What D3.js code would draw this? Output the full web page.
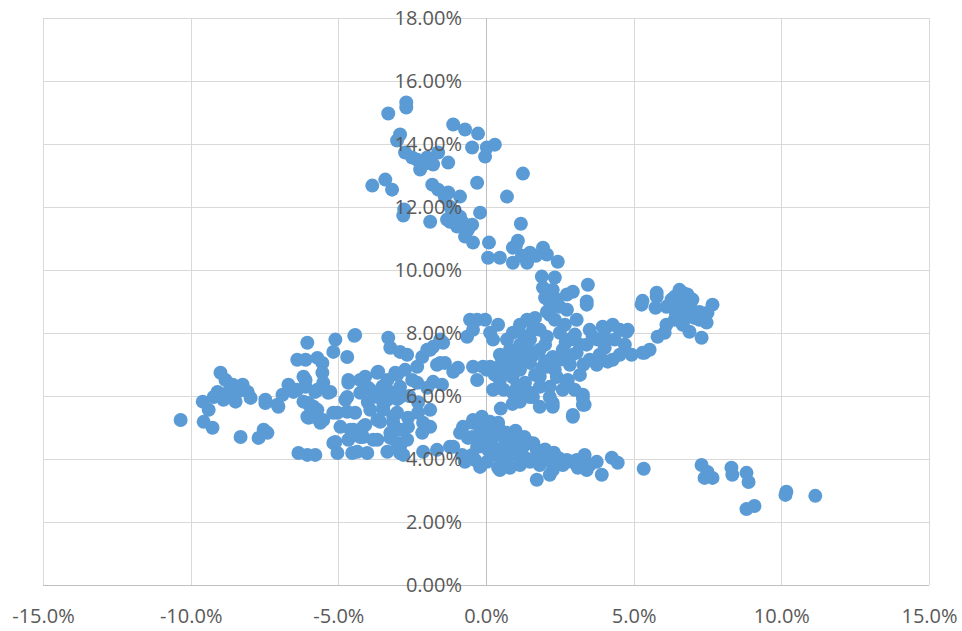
<!DOCTYPE html>
<html>
<head>
<meta charset="utf-8">
<script src="https://cdn.jsdelivr.net/npm/d3@7"></script>
<style>
  body { margin: 0; background: #fff; }
  svg { display: block; }
</style>
</head>
<body>
<div id="chart"></div>
<script>
// ticks
const xTicks = [-15, -10, -5, 0, 5, 10, 15];
const yTicks = [0, 2, 4, 6, 8, 10, 12, 14, 16, 18];

// points, [x %, y %], grouped by region of the scatter
const topPts = [
  [-2.70, 15.32], [-2.70, 15.16], [-3.31, 14.97], [-1.11, 14.62], [-0.71, 14.46], [-0.27, 14.33],
  [-2.91, 14.30], [-3.01, 14.11], [0.30, 13.98], [0.03, 13.89], [-0.47, 13.89], [-0.03, 13.60],
  [-2.74, 13.73], [-2.33, 13.50], [-1.99, 13.57], [-1.62, 13.73], [-1.28, 13.41], [-1.79, 13.35],
  [-2.23, 13.19], [-2.13, 13.35], [-2.50, 13.57], [1.25, 13.06], [-3.85, 12.68], [-3.41, 12.87],
  [-3.18, 12.55], [-1.82, 12.71], [-1.62, 12.55], [-0.30, 12.77], [-1.28, 12.46], [-0.88, 12.33],
  [0.71, 12.33], [-1.39, 12.30], [-2.80, 11.73], [-2.77, 11.92], [-1.89, 11.53], [-1.22, 12.01],
  [-1.05, 11.85], [-0.20, 11.82], [-1.22, 11.53], [-0.98, 11.66], [-0.78, 11.50], [-0.47, 11.44],
  [-0.88, 11.69], [-0.98, 11.38], [-0.61, 11.28], [-0.71, 11.06], [-0.44, 10.87], [-0.68, 11.22],
  [1.18, 11.47], [0.10, 10.87], [-1.32, 11.60], [-1.15, 11.76]
];

const bandPts = [
  [0.07, 10.39], [0.47, 10.39], [0.91, 10.23], [0.91, 10.71], [1.08, 10.93], [1.01, 10.77],
  [1.49, 10.55], [1.39, 10.23], [1.93, 10.71], [2.06, 10.49], [2.43, 10.26], [1.69, 10.45],
  [1.22, 10.45], [1.89, 9.79], [2.33, 9.76], [1.93, 9.44], [2.00, 9.12], [2.40, 9.06],
  [2.74, 9.22], [2.94, 9.31], [3.45, 9.53], [3.41, 9.00], [2.16, 8.96], [2.06, 8.67],
  [2.74, 8.74], [3.07, 8.42], [2.50, 8.83], [2.26, 9.37]
];

const rightPts = [
  [5.27, 8.90], [5.30, 9.02], [5.78, 9.28], [5.78, 9.15], [5.74, 8.80], [6.39, 9.15],
  [6.55, 9.37], [6.66, 9.28], [6.82, 9.22], [6.11, 8.83], [6.55, 8.74], [6.96, 8.74],
  [7.23, 8.67], [7.67, 8.90], [7.50, 8.64], [6.79, 8.48], [7.23, 8.42], [7.47, 8.33],
  [6.39, 8.42], [6.11, 8.26], [5.81, 7.88], [6.05, 8.01], [6.89, 8.04], [7.30, 7.85],
  [5.37, 7.37], [5.54, 7.47], [4.80, 8.10], [6.72, 8.90], [6.99, 9.06], [6.42, 8.67],
  [7.06, 8.48], [6.66, 8.26], [6.28, 9.06]
];

const midPts = [
  [-0.03, 8.42], [0.14, 8.01], [0.24, 7.79], [0.91, 8.01], [1.39, 8.42], [1.59, 8.10],
  [2.06, 7.88], [2.50, 8.01], [2.84, 7.79], [3.51, 8.10], [3.95, 8.20], [4.29, 8.26],
  [4.76, 8.04], [4.09, 7.79], [3.41, 7.63], [3.85, 7.31], [4.53, 7.31], [4.29, 7.15],
  [3.51, 7.15], [3.07, 7.37], [2.60, 7.47], [2.26, 7.24], [1.82, 7.47], [1.39, 7.56],
  [1.05, 7.37], [0.71, 7.79], [1.49, 7.05], [2.06, 6.93], [1.15, 6.83], [0.71, 6.83],
  [0.14, 6.93], [0.47, 6.51], [1.05, 6.29], [1.82, 6.61], [2.16, 6.29], [2.74, 6.45],
  [3.28, 6.04], [1.49, 6.10], [5.30, 7.37], [3.41, 8.90], [3.61, 7.88], [4.02, 7.53],
  [4.12, 7.09], [2.77, 6.51], [3.28, 5.94], [2.94, 5.40], [1.82, 5.66], [2.26, 5.66],
  [1.59, 5.97], [1.15, 5.82], [2.26, 5.78], [3.28, 5.72], [3.34, 5.72], [2.94, 5.34],
  [0.47, 6.26], [0.24, 6.20], [0.91, 6.10], [1.49, 5.97], [1.82, 6.29], [2.16, 5.97],
  [1.49, 7.79], [1.82, 8.10], [2.33, 8.42], [2.67, 8.26], [3.01, 7.95], [3.18, 7.63],
  [2.50, 7.15], [2.00, 7.63], [1.15, 7.63], [0.81, 7.15], [1.66, 6.67], [2.33, 6.83],
  [2.84, 6.99], [3.18, 6.67], [1.32, 6.42], [0.81, 7.47], [3.78, 7.79], [4.36, 7.79],
  [4.70, 7.63], [4.93, 7.31], [3.75, 6.99], [4.02, 8.10], [4.53, 8.10], [2.16, 8.58],
  [1.66, 8.48], [1.15, 8.26], [0.41, 8.26], [0.47, 7.31], [0.30, 6.67],
  [0.50, 7.00], [0.90, 6.60], [1.20, 7.20], [1.60, 7.30], [2.00, 7.10], [2.40, 6.60],
  [2.90, 7.30], [3.30, 7.00], [1.00, 6.90], [1.90, 6.90], [2.70, 7.70], [1.30, 7.90],
  [0.60, 6.20], [1.20, 6.20], [2.60, 6.20], [3.00, 6.20], [0.50, 5.60], [0.90, 5.75]
];

const nearPts = [
  [-0.54, 8.42], [-0.30, 8.42], [-0.44, 8.10], [-0.64, 7.88], [-1.55, 7.79], [-1.89, 7.47],
  [-1.55, 7.05], [-1.11, 6.77], [-0.44, 6.93], [0.03, 6.83], [-0.95, 6.90], [-1.39, 7.05],
  [-1.66, 6.99], [-1.45, 7.69], [-1.79, 7.56], [-1.99, 7.47], [-2.16, 7.24], [-2.33, 6.93],
  [-2.74, 6.83], [-3.07, 6.74], [-3.31, 7.85], [-3.24, 7.53], [-2.91, 7.40], [-2.67, 7.31],
  [-3.65, 6.77], [-4.09, 6.61], [-4.66, 6.51], [-4.66, 6.42], [-4.26, 6.51], [-3.68, 6.74],
  [-3.01, 6.67], [-3.34, 6.51], [-0.30, 6.51], [-0.10, 6.93], [-1.49, 6.36], [-1.79, 6.45],
  [-1.99, 6.26], [-2.33, 6.42], [-2.50, 6.51], [-2.91, 6.29], [-3.24, 6.13], [-3.68, 6.10],
  [-3.99, 6.26], [-3.92, 6.20], [-4.26, 6.10], [-2.91, 5.97], [-3.34, 5.88], [-3.68, 5.97],
  [-4.46, 7.91], [-5.10, 7.79], [-4.43, 7.94], [-4.70, 7.24], [-5.17, 7.40],
  [-3.50, 6.30], [-2.60, 6.00], [-4.00, 5.80], [-2.30, 5.80], [-3.00, 5.90]
];

const leftPts = [
  [-10.34, 5.24], [-9.59, 5.82], [-9.56, 5.18], [-9.26, 4.99], [-9.39, 5.56], [-8.99, 6.74],
  [-8.82, 6.51], [-8.58, 6.36], [-9.09, 6.13], [-8.89, 5.88], [-8.41, 6.13], [-8.48, 5.82],
  [-8.07, 6.13], [-7.97, 5.94], [-8.72, 6.13], [-9.22, 5.97], [-8.24, 6.36], [-7.47, 5.78],
  [-7.03, 5.66], [-8.31, 4.70], [-7.70, 4.67], [-7.40, 4.83], [-6.89, 6.04], [-6.69, 6.36],
  [-6.39, 7.15], [-6.05, 7.69], [-6.11, 7.15], [-5.71, 7.21], [-5.54, 7.05], [-5.54, 6.74],
  [-5.51, 6.42], [-5.27, 6.13], [-6.39, 6.20], [-6.11, 6.51], [-5.95, 5.66], [-5.84, 5.34],
  [-5.51, 5.24], [-5.10, 4.54], [-6.35, 4.19], [-6.05, 4.13], [-5.78, 4.13], [-6.18, 6.61],
  [-6.52, 6.13], [-5.71, 6.20], [-6.18, 5.82], [-5.84, 5.66], [-6.01, 5.31], [-5.61, 5.15],
  [-5.17, 5.47], [-7.53, 4.93], [-7.47, 5.88], [-7.06, 5.72], [-6.62, 6.26], [-6.11, 6.29],
  [-5.78, 6.13], [-5.34, 6.10], [-6.01, 5.78], [-5.71, 5.56], [-6.05, 5.34]
];

const lowMidPts = [
  [-4.70, 5.97], [-5.03, 5.47], [-4.70, 5.50], [-4.76, 5.88], [-4.43, 5.47], [-3.92, 5.56],
  [-3.48, 5.66], [-3.01, 5.47], [-2.64, 5.31], [-2.30, 5.47], [-1.89, 5.56], [-2.13, 5.15],
  [-1.89, 5.02], [-2.16, 4.83], [-2.64, 5.02], [-3.14, 5.15], [-3.58, 5.18], [-4.09, 5.08],
  [-4.49, 4.93], [-4.93, 5.02], [-5.17, 4.51], [-4.66, 4.61], [-4.16, 4.70], [-3.68, 4.61],
  [-3.24, 4.67], [-2.91, 4.39], [-5.03, 4.19], [-4.53, 4.19], [-4.02, 4.19], [-3.34, 4.23],
  [-2.91, 4.19], [-2.13, 4.23], [-1.66, 4.29], [-1.11, 4.39], [-0.78, 5.02], [-0.44, 5.24],
  [-0.14, 5.34], [-0.47, 4.70], [-0.30, 4.39], [-4.26, 4.70], [-3.82, 4.61], [-3.24, 4.83],
  [-2.91, 4.93], [-2.67, 4.61], [-3.01, 4.51], [-2.80, 4.13], [-4.36, 4.23], [-3.48, 5.56],
  [-3.14, 5.34], [-3.68, 5.24], [-4.16, 5.02], [-4.59, 4.93]
];

const lowPts = [
  [-1.22, 4.39], [-0.44, 5.15], [-0.20, 5.15], [0.14, 5.18], [0.41, 5.15], [-0.61, 4.67],
  [-0.47, 4.13], [-0.20, 3.75], [0.41, 3.72], [0.71, 4.83], [0.88, 4.70], [1.05, 4.51],
  [1.42, 4.54], [1.72, 4.29], [1.89, 4.19], [2.16, 4.07], [2.43, 4.04], [2.74, 3.97],
  [3.07, 3.97], [3.34, 4.13], [3.51, 3.81], [3.11, 3.72], [2.26, 3.65], [1.72, 3.34],
  [2.16, 3.50], [3.92, 3.50], [4.26, 4.04], [4.46, 3.88], [-0.03, 4.93], [0.20, 4.61],
  [0.47, 4.93], [0.64, 4.45], [0.07, 4.29], [0.30, 4.13], [0.64, 3.97], [0.98, 4.13],
  [1.32, 4.04], [1.15, 3.81], [0.81, 3.72], [1.49, 3.91], [1.82, 3.81], [2.00, 3.97],
  [2.60, 3.81], [2.91, 3.91], [3.24, 3.91], [3.75, 3.91], [-0.81, 4.13], [-0.71, 3.91],
  [-0.37, 3.97], [0.03, 3.91], [0.47, 3.65], [-0.27, 4.61], [1.32, 4.45], [1.66, 4.04],
  [2.33, 3.88], [3.41, 3.65], [-0.88, 4.83],
  [0.30, 5.00], [0.60, 4.70], [0.90, 4.40], [1.20, 4.30], [0.20, 4.40], [-0.20, 4.40],
  [0.50, 4.30], [1.00, 4.90], [1.30, 4.70], [1.60, 4.50], [0.00, 4.70], [-0.20, 5.00],
  [2.00, 4.30], [2.30, 4.20], [2.50, 4.00], [1.80, 4.00], [0.80, 4.10], [1.10, 4.15]
];

const tailPts = [
  [5.34, 3.69], [7.30, 3.81], [7.40, 3.40], [7.67, 3.40], [7.50, 3.59], [8.31, 3.72],
  [8.34, 3.50], [8.82, 3.56], [8.89, 3.27], [8.82, 2.41], [9.09, 2.51], [10.14, 2.86],
  [10.17, 2.96], [11.15, 2.83]
];

const points = [].concat(topPts, bandPts, rightPts, midPts, nearPts, leftPts, lowMidPts, lowPts, tailPts);

const width = 962;
const height = 631;
const plotLeft = 43, plotRight = 929, plotTop = 18, plotBottom = 585;

const x = d3.scaleLinear().domain([-15, 15]).range([plotLeft, plotRight]);
const y = d3.scaleLinear().domain([0, 18]).range([plotBottom, plotTop]);

const svg = d3.select("#chart")
  .append("svg")
  .attr("width", width)
  .attr("height", height);

// gridlines
svg.append("g")
  .attr("stroke", "#d9d9d9")
  .attr("stroke-width", 1)
  .selectAll("line")
  .data(yTicks)
  .join("line")
    .attr("x1", plotLeft).attr("x2", plotRight)
    .attr("y1", d => Math.round(y(d)) + 0.5)
    .attr("y2", d => Math.round(y(d)) + 0.5);

svg.append("g")
  .attr("stroke", "#d9d9d9")
  .attr("stroke-width", 1)
  .selectAll("line")
  .data(xTicks)
  .join("line")
    .attr("y1", plotTop).attr("y2", plotBottom)
    .attr("x1", d => Math.round(x(d)) + 0.5)
    .attr("x2", d => Math.round(x(d)) + 0.5);

// axis lines through zero
svg.append("line")
  .attr("x1", plotLeft).attr("x2", plotRight)
  .attr("y1", Math.round(y(0)) + 0.5).attr("y2", Math.round(y(0)) + 0.5)
  .attr("stroke", "#bfbfbf");
svg.append("line")
  .attr("y1", plotTop).attr("y2", plotBottom)
  .attr("x1", Math.round(x(0)) + 0.5).attr("x2", Math.round(x(0)) + 0.5)
  .attr("stroke", "#bfbfbf");

// markers
svg.append("g")
  .attr("fill", "#5b9bd5")
  .selectAll("circle")
  .data(points)
  .join("circle")
    .attr("cx", d => x(d[0]))
    .attr("cy", d => y(d[1]))
    .attr("r", 7);

// tick labels (drawn over markers)
const yAxis = svg.append("g")
  .attr("transform", `translate(${x(0)},0)`)
  .call(d3.axisLeft(y).tickValues(yTicks).tickSize(0).tickPadding(24)
    .tickFormat(d => d.toFixed(2) + "%"));

const xAxis = svg.append("g")
  .attr("transform", `translate(0,${y(0)})`)
  .call(d3.axisBottom(x).tickValues(xTicks).tickSize(0).tickPadding(24)
    .tickFormat(d => d.toFixed(1) + "%"));

[yAxis, xAxis].forEach(g => {
  g.select(".domain").remove();
  g.selectAll("text")
    .attr("fill", "#595959")
    .attr("font-family", "'Open Sans', sans-serif")
    .attr("font-size", 20);
});
</script>
</body>
</html>
